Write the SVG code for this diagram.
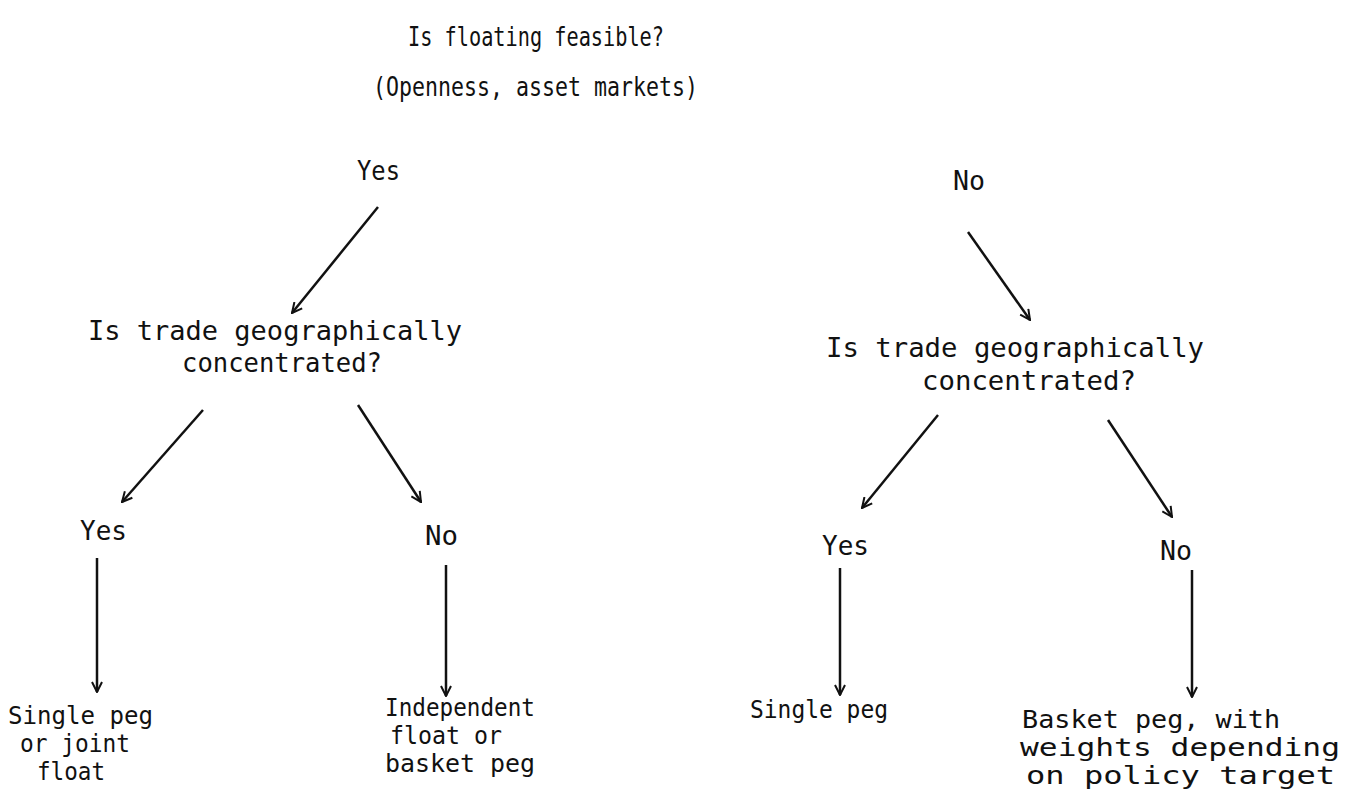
<svg xmlns="http://www.w3.org/2000/svg" width="1354" height="799" viewBox="0 0 1354 799">
<defs>
<style>
text{font-family:"DejaVu Sans Mono","Liberation Mono",monospace;font-size:27px;fill:#111}
.b{font-size:24px}
.c line{stroke:#111;stroke-width:2.5;fill:none;marker-end:url(#ah)}
</style>
<marker id="ah" viewBox="0 0 12 12" refX="11" refY="6" markerWidth="12" markerHeight="12" markerUnits="userSpaceOnUse" orient="auto">
<path d="M1,1 L11,6 L1,11" fill="none" stroke="#111" stroke-width="2"/>
</marker>
</defs>
<rect width="1354" height="799" fill="#fff"/>
<g id="root">
<text><tspan x="408" y="46" textLength="256" lengthAdjust="spacingAndGlyphs">Is floating feasible?</tspan><tspan x="373" y="96" textLength="325" lengthAdjust="spacingAndGlyphs">(Openness, asset markets)</tspan></text>
</g>
<g id="yes1"><text x="357" y="180" textLength="43" lengthAdjust="spacingAndGlyphs">Yes</text></g>
<g id="no1"><text x="953" y="190" textLength="32" lengthAdjust="spacingAndGlyphs">No</text></g>
<g id="q-left">
<text><tspan x="88" y="340" textLength="374" lengthAdjust="spacingAndGlyphs">Is trade geographically</tspan><tspan x="182" y="372" textLength="200" lengthAdjust="spacingAndGlyphs">concentrated?</tspan></text>
</g>
<g id="q-right">
<text><tspan x="826" y="357" textLength="378" lengthAdjust="spacingAndGlyphs">Is trade geographically</tspan><tspan x="922" y="390" textLength="214" lengthAdjust="spacingAndGlyphs">concentrated?</tspan></text>
</g>
<g id="yes2"><text x="80" y="540" textLength="47" lengthAdjust="spacingAndGlyphs">Yes</text></g>
<g id="no2"><text x="425" y="545" textLength="33" lengthAdjust="spacingAndGlyphs">No</text></g>
<g id="yes3"><text x="822" y="555" textLength="47" lengthAdjust="spacingAndGlyphs">Yes</text></g>
<g id="no3"><text x="1160" y="560" textLength="32" lengthAdjust="spacingAndGlyphs">No</text></g>
<g id="out1">
<text class="b"><tspan x="8" y="724" textLength="145" lengthAdjust="spacingAndGlyphs">Single peg</tspan><tspan x="20" y="752" textLength="110" lengthAdjust="spacingAndGlyphs">or joint</tspan><tspan x="37" y="780" textLength="68" lengthAdjust="spacingAndGlyphs">float</tspan></text>
</g>
<g id="out2">
<text class="b"><tspan x="385" y="716" textLength="150" lengthAdjust="spacingAndGlyphs">Independent</tspan><tspan x="390" y="744" textLength="112" lengthAdjust="spacingAndGlyphs">float or</tspan><tspan x="385" y="772" textLength="150" lengthAdjust="spacingAndGlyphs">basket peg</tspan></text>
</g>
<g id="out3">
<text class="b" x="750" y="718" textLength="138" lengthAdjust="spacingAndGlyphs">Single peg</text>
</g>
<g id="out4">
<text class="b"><tspan x="1022" y="728" textLength="258" lengthAdjust="spacingAndGlyphs">Basket peg, with</tspan><tspan x="1020" y="756" textLength="320" lengthAdjust="spacingAndGlyphs">weights depending</tspan><tspan x="1026" y="784" textLength="309" lengthAdjust="spacingAndGlyphs">on policy  target</tspan></text>
</g>
<g id="connectors" class="c">
<line x1="378" y1="207" x2="292" y2="313"/>
<line x1="968" y1="232" x2="1030" y2="320"/>
<line x1="203" y1="410" x2="122" y2="502"/>
<line x1="358" y1="405" x2="421" y2="502"/>
<line x1="938" y1="415" x2="862" y2="508"/>
<line x1="1108" y1="420" x2="1172" y2="517"/>
<line x1="97" y1="558" x2="97" y2="692"/>
<line x1="446" y1="565" x2="446" y2="696"/>
<line x1="840" y1="568" x2="840" y2="695"/>
<line x1="1192" y1="570" x2="1192" y2="697"/>
</g>
</svg>
